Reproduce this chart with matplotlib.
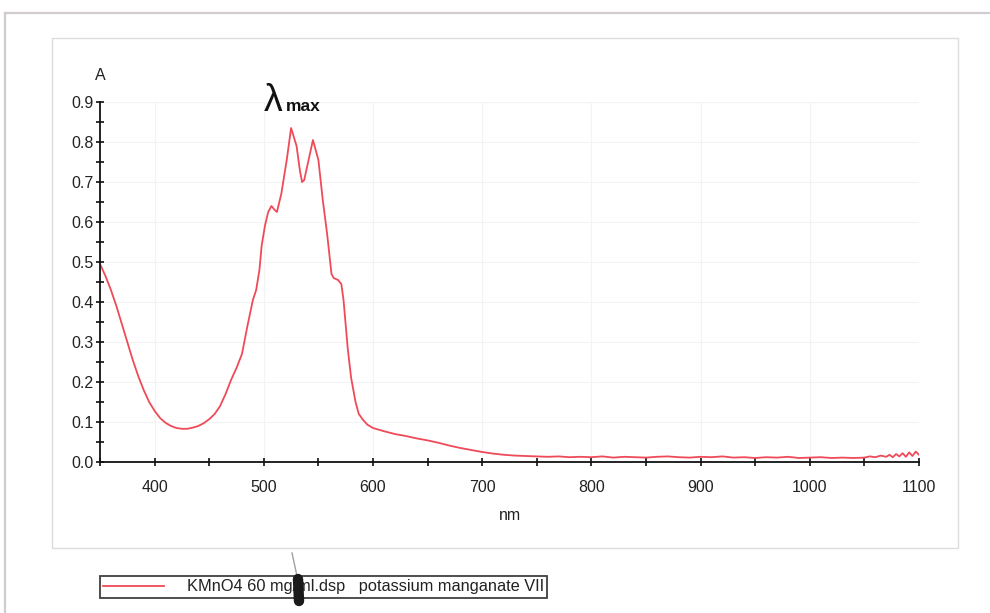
import matplotlib.pyplot as plt
import matplotlib.ticker as mticker
from matplotlib.patches import Rectangle
from matplotlib.lines import Line2D

plt.rcParams['font.family'] = ['Liberation Sans', 'DejaVu Sans']

# KMnO4 absorption spectrum
wavelength = [350, 355, 360, 365, 370, 375, 380, 385, 390, 395, 400, 405, 410, 415, 420,
              425, 430, 435, 440, 445, 450, 455, 460, 465, 470, 475, 480, 485, 490, 493,
              496, 498, 501, 504, 507, 510, 512, 516, 521, 525, 530, 533, 535, 537, 541,
              545, 550, 554, 558, 562, 564, 568, 571, 573, 577, 580, 584, 587, 591, 595,
              600, 610, 620, 630, 640, 650, 660, 670, 680, 690, 700, 710, 720, 730, 740,
              750, 760, 770, 780, 790, 800, 810, 820, 830, 840, 850, 860, 870, 880, 890,
              900, 910, 920, 930, 940, 950, 960, 970, 980, 990, 1000, 1010, 1020, 1030,
              1040, 1050, 1055, 1060, 1065, 1070, 1073, 1076, 1079, 1082, 1085, 1088,
              1091, 1094, 1097, 1100]
absorbance = [0.495, 0.465, 0.43, 0.39, 0.345, 0.30, 0.255, 0.215, 0.18, 0.15, 0.128, 0.11,
              0.098, 0.09, 0.085, 0.083, 0.083, 0.086, 0.09, 0.097, 0.107, 0.12, 0.14, 0.17,
              0.205, 0.235, 0.27, 0.34, 0.405, 0.43, 0.48, 0.54, 0.59, 0.625, 0.64, 0.63,
              0.625, 0.67, 0.755, 0.835, 0.79, 0.73, 0.70, 0.705, 0.755, 0.805, 0.755, 0.655,
              0.57, 0.47, 0.46, 0.455, 0.445, 0.405, 0.28, 0.21, 0.15, 0.12, 0.105, 0.093,
              0.085, 0.077, 0.070, 0.065, 0.059, 0.054, 0.048, 0.041, 0.035, 0.030, 0.025,
              0.021, 0.018, 0.016, 0.015, 0.014, 0.013, 0.014, 0.012, 0.013, 0.012, 0.014,
              0.011, 0.013, 0.012, 0.011, 0.013, 0.014, 0.012, 0.011, 0.013, 0.012, 0.014,
              0.011, 0.012, 0.010, 0.012, 0.011, 0.013, 0.010, 0.011, 0.012, 0.010, 0.011,
              0.010, 0.011, 0.014, 0.012, 0.016, 0.013, 0.018, 0.012, 0.020, 0.014, 0.022,
              0.013, 0.024, 0.015, 0.026, 0.018]

LINE_COLOR = '#ef4a58'
TEXT_COLOR = '#222222'
legend_label = 'KMnO4 60 mg/ml.dsp   potassium manganate VII'

W, H = 990, 613
fig = plt.figure(figsize=(W / 100, H / 100), dpi=100)
fig.patch.set_facecolor('white')

def fx(px):
    return px / W

def fy(py):
    return 1 - py / H

# page frame lines and the plot panel box
fig.add_artist(Line2D([fx(5), 1.0], [fy(13), fy(13)], color='#d2cbd0', lw=1.6))
fig.add_artist(Line2D([fx(5), fx(5)], [fy(13), 0.0], color='#d2cbd0', lw=1.6))
fig.add_artist(Rectangle((fx(52), fy(548)), fx(958) - fx(52), fy(38) - fy(548),
                         fill=False, edgecolor='#dcdcdc', lw=1.0))

ax = fig.add_axes([fx(100), fy(462), fx(919) - fx(100), fy(102) - fy(462)])
ax.plot(wavelength, absorbance, color=LINE_COLOR, lw=1.3, label=legend_label)

ax.set_xlim(350, 1100)
ax.set_ylim(0, 0.9)
ax.xaxis.set_major_locator(mticker.FixedLocator([400, 500, 600, 700, 800, 900, 1000, 1100]))
ax.xaxis.set_minor_locator(mticker.MultipleLocator(50))
ax.yaxis.set_major_locator(mticker.MultipleLocator(0.1))
ax.yaxis.set_minor_locator(mticker.MultipleLocator(0.05))
ax.yaxis.set_major_formatter(mticker.FormatStrFormatter('%.1f'))

for side in ['top', 'right']:
    ax.spines[side].set_visible(False)
for side in ['left', 'bottom']:
    ax.spines[side].set_linewidth(1.3)
    ax.spines[side].set_color('#111111')

ax.tick_params(which='both', direction='inout', length=5.5, width=1.2, color='#111111',
               labelsize=11.5, labelcolor=TEXT_COLOR)
ax.tick_params(axis='x', pad=10)
ax.tick_params(axis='y', pad=2)
ax.grid(True, which='major', color='#f3f3f3', lw=0.8)
ax.set_axisbelow(True)

fig.text(fx(100), fy(75), 'A', fontsize=11.5, color=TEXT_COLOR, ha='center', va='center')
fig.text(fx(510), fy(515), 'nm', fontsize=11.5, color=TEXT_COLOR, ha='center', va='center')

# handwritten lambda max note above the peaks
fig.text(fx(264), fy(111), 'λ', fontsize=27, color='#111111', ha='left', va='baseline')
fig.text(fx(286), fy(111), 'max', fontsize=12.5, fontweight='bold', color='#111111',
         ha='left', va='baseline')

leg = fig.legend(loc='center left', bbox_to_anchor=(fx(100), fy(587)), frameon=True,
                 fancybox=False, edgecolor='#111111', fontsize=11.8, handlelength=3.7,
                 handletextpad=1.4, borderpad=0.2, borderaxespad=0)
leg.get_frame().set_linewidth(1.3)
for t in leg.get_texts():
    t.set_color(TEXT_COLOR)

# ink mark across the legend
fig.add_artist(Line2D([fx(292), fx(297)], [fy(553), fy(576)], color='#a0a0a0', lw=1.0,
                      zorder=10))
fig.add_artist(Line2D([fx(298), fx(299)], [fy(579), fy(601)], color='#1a1a1a', lw=7.5,
                      solid_capstyle='round', zorder=10))

fig.savefig('out.png', dpi=100, facecolor='white')
